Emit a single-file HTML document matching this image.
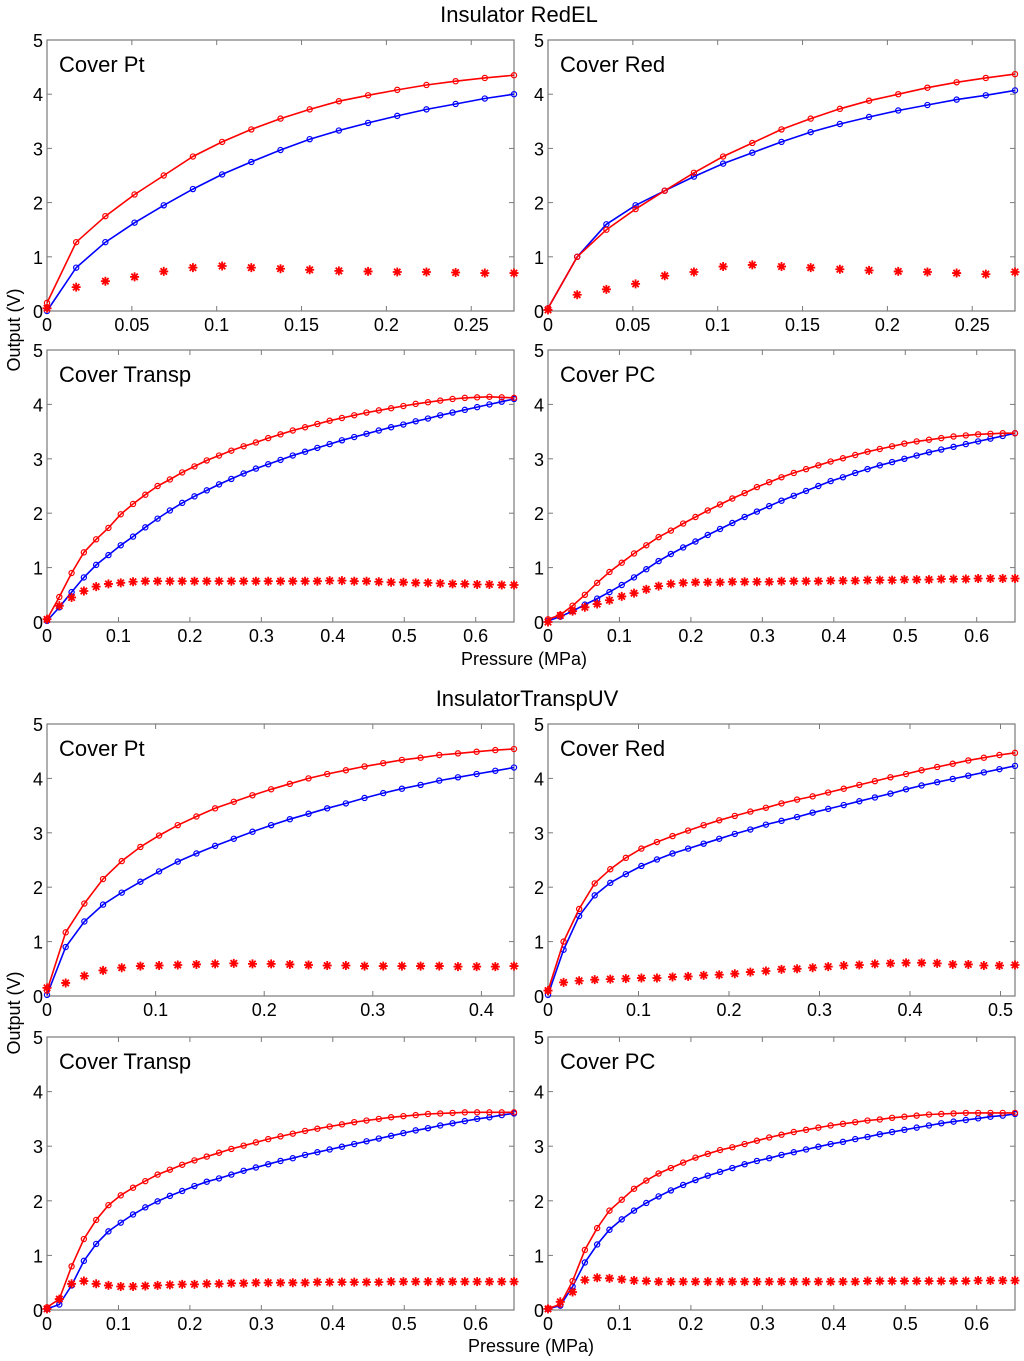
<!DOCTYPE html>
<html><head><meta charset="utf-8"><style>
html,body{margin:0;padding:0;background:#fff;width:1024px;height:1361px;overflow:hidden}
svg{display:block}
text{font-family:"Liberation Sans",sans-serif;fill:#000}
</style></head><body>
<svg id="chart" width="1024" height="1361" viewBox="0 0 1024 1361" xmlns="http://www.w3.org/2000/svg">
<text x="519" y="22" font-size="22" text-anchor="middle">Insulator RedEL</text>
<text x="527" y="706" font-size="22" text-anchor="middle">InsulatorTranspUV</text>
<text transform="translate(20,330) rotate(-90)" font-size="18" text-anchor="middle">Output (V)</text>
<text transform="translate(20,1013) rotate(-90)" font-size="18" text-anchor="middle">Output (V)</text>
<text x="524" y="665" font-size="18" text-anchor="middle">Pressure (MPa)</text>
<text x="531" y="1352" font-size="18" text-anchor="middle">Pressure (MPa)</text>
</svg>
<script>
const xStep = 0.0172;
const yTicks = [0,1,2,3,4,5];
const panelNames = ["Cover Pt","Cover Red","Cover Transp","Cover PC","Cover Pt","Cover Red","Cover Transp","Cover PC"];
const xTicks1 = [0,0.05,0.1,0.15,0.2,0.25];
const xTicks1Labels = ["0","0.05","0.1","0.15","0.2","0.25"];
const xTicks2 = [0,0.1,0.2,0.3,0.4,0.5,0.6];
const xTicks2Labels = ["0","0.1","0.2","0.3","0.4","0.5","0.6"];
const xTicks5 = [0,0.1,0.2,0.3,0.4];
const xTicks5Labels = ["0","0.1","0.2","0.3","0.4"];
const xTicks6 = [0,0.1,0.2,0.3,0.4,0.5];
const xTicks6Labels = ["0","0.1","0.2","0.3","0.4","0.5"];

const red1 = [0.15,1.27,1.75,2.15,2.5,2.85,3.12,3.35,3.55,3.72,3.87,3.98,4.08,4.17,4.24,4.3,4.35];
const blue1 = [0,0.8,1.27,1.63,1.95,2.25,2.52,2.75,2.97,3.17,3.33,3.47,3.6,3.72,3.82,3.92,4.0];
const star1 = [0.05,0.44,0.55,0.63,0.73,0.8,0.83,0.8,0.78,0.76,0.74,0.73,0.72,0.72,0.71,0.7,0.7];

const red2 = [0.05,1.0,1.5,1.88,2.22,2.55,2.85,3.1,3.35,3.55,3.73,3.88,4.0,4.12,4.22,4.3,4.37];
const blue2 = [0.05,1.0,1.6,1.95,2.22,2.48,2.72,2.92,3.12,3.3,3.45,3.58,3.7,3.8,3.9,3.98,4.07];
const star2 = [0.02,0.3,0.4,0.5,0.65,0.72,0.82,0.85,0.82,0.8,0.77,0.75,0.73,0.72,0.7,0.68,0.72];

const red3 = [0.05,0.46,0.9,1.28,1.52,1.73,1.98,2.17,2.34,2.5,2.62,2.75,2.86,2.97,3.06,3.15,3.23,3.3,3.38,3.45,3.52,3.58,3.64,3.7,3.75,3.8,3.85,3.89,3.93,3.97,4.01,4.04,4.07,4.1,4.12,4.13,4.14,4.13,4.12];
const blue3 = [0.02,0.27,0.55,0.82,1.05,1.23,1.41,1.57,1.74,1.9,2.05,2.19,2.31,2.42,2.53,2.63,2.73,2.82,2.9,2.98,3.06,3.13,3.2,3.27,3.34,3.4,3.46,3.52,3.58,3.63,3.69,3.74,3.8,3.85,3.9,3.95,4.0,4.05,4.1];
const star3 = [0.05,0.3,0.45,0.57,0.65,0.7,0.72,0.74,0.75,0.75,0.75,0.75,0.75,0.75,0.75,0.75,0.75,0.75,0.75,0.75,0.75,0.75,0.75,0.76,0.76,0.75,0.75,0.74,0.73,0.73,0.72,0.72,0.71,0.7,0.7,0.69,0.69,0.68,0.68];

const red4 = [0.05,0.13,0.3,0.5,0.72,0.92,1.09,1.26,1.41,1.56,1.68,1.81,1.93,2.05,2.16,2.27,2.37,2.48,2.57,2.66,2.74,2.81,2.88,2.95,3.01,3.07,3.13,3.18,3.23,3.28,3.32,3.35,3.38,3.41,3.43,3.45,3.46,3.47,3.47];
const blue4 = [0.02,0.1,0.2,0.32,0.43,0.55,0.68,0.82,0.97,1.12,1.25,1.37,1.48,1.6,1.71,1.82,1.93,2.03,2.13,2.23,2.32,2.41,2.5,2.59,2.66,2.74,2.81,2.88,2.94,3.0,3.06,3.12,3.17,3.22,3.27,3.32,3.37,3.42,3.47];
const star4 = [0.0,0.12,0.2,0.27,0.33,0.4,0.47,0.53,0.6,0.66,0.7,0.72,0.73,0.73,0.73,0.74,0.74,0.74,0.74,0.75,0.75,0.75,0.75,0.76,0.76,0.76,0.77,0.77,0.77,0.78,0.78,0.78,0.79,0.79,0.79,0.8,0.8,0.8,0.8];

const red5 = [0.1,1.17,1.7,2.15,2.48,2.74,2.95,3.14,3.3,3.45,3.57,3.69,3.8,3.9,4.0,4.08,4.15,4.22,4.28,4.34,4.38,4.43,4.46,4.49,4.52,4.54];
const blue5 = [0.02,0.9,1.37,1.68,1.9,2.1,2.29,2.47,2.62,2.76,2.89,3.02,3.14,3.25,3.35,3.45,3.54,3.64,3.73,3.81,3.88,3.96,4.02,4.08,4.14,4.2];
const star5 = [0.15,0.24,0.37,0.47,0.52,0.55,0.56,0.57,0.58,0.59,0.6,0.59,0.59,0.58,0.57,0.56,0.56,0.55,0.55,0.55,0.55,0.55,0.54,0.54,0.54,0.55];

const red6 = [0.1,1.0,1.6,2.07,2.33,2.54,2.71,2.83,2.94,3.04,3.14,3.23,3.31,3.39,3.46,3.54,3.61,3.67,3.74,3.81,3.88,3.95,4.02,4.08,4.15,4.21,4.27,4.33,4.38,4.43,4.47];
const blue6 = [0.02,0.85,1.47,1.85,2.08,2.24,2.39,2.51,2.62,2.71,2.8,2.89,2.98,3.06,3.15,3.22,3.29,3.37,3.44,3.51,3.58,3.65,3.72,3.8,3.87,3.93,3.99,4.05,4.11,4.17,4.23];
const star6 = [0.1,0.25,0.28,0.3,0.31,0.32,0.33,0.33,0.35,0.36,0.38,0.39,0.41,0.44,0.46,0.49,0.5,0.52,0.54,0.56,0.57,0.59,0.6,0.61,0.61,0.6,0.58,0.58,0.56,0.56,0.57];

const red7 = [0.05,0.2,0.8,1.3,1.65,1.92,2.1,2.24,2.36,2.48,2.57,2.66,2.74,2.81,2.88,2.95,3.01,3.07,3.13,3.18,3.23,3.28,3.32,3.36,3.4,3.44,3.47,3.5,3.53,3.55,3.57,3.59,3.6,3.61,3.62,3.62,3.62,3.62,3.62];
const blue7 = [0.02,0.1,0.45,0.9,1.21,1.44,1.6,1.75,1.88,1.99,2.09,2.18,2.27,2.35,2.41,2.48,2.55,2.61,2.67,2.73,2.78,2.84,2.89,2.94,2.99,3.04,3.09,3.14,3.19,3.24,3.29,3.33,3.38,3.42,3.46,3.5,3.53,3.57,3.6];
const star7 = [0.02,0.2,0.48,0.53,0.48,0.45,0.43,0.43,0.44,0.45,0.46,0.47,0.47,0.48,0.48,0.49,0.49,0.5,0.5,0.5,0.5,0.5,0.51,0.51,0.51,0.51,0.51,0.51,0.52,0.52,0.52,0.52,0.52,0.52,0.52,0.52,0.52,0.52,0.52];

const red8 = [0.03,0.1,0.53,1.1,1.5,1.82,2.02,2.22,2.37,2.5,2.6,2.7,2.79,2.86,2.93,2.98,3.04,3.1,3.16,3.21,3.26,3.3,3.34,3.38,3.41,3.44,3.47,3.49,3.52,3.54,3.56,3.58,3.59,3.6,3.61,3.61,3.61,3.61,3.61];
const blue8 = [0.02,0.08,0.43,0.87,1.2,1.47,1.66,1.82,1.96,2.08,2.19,2.29,2.38,2.46,2.53,2.6,2.67,2.73,2.78,2.84,2.89,2.94,2.99,3.04,3.08,3.13,3.17,3.22,3.26,3.3,3.34,3.38,3.42,3.45,3.48,3.51,3.54,3.56,3.59];
const star8 = [0.02,0.15,0.33,0.55,0.59,0.58,0.56,0.54,0.53,0.52,0.52,0.52,0.52,0.52,0.52,0.52,0.52,0.52,0.52,0.52,0.52,0.52,0.52,0.52,0.52,0.52,0.53,0.53,0.53,0.53,0.53,0.53,0.53,0.53,0.53,0.54,0.54,0.54,0.54];

const NS = "http://www.w3.org/2000/svg";
const svg = document.getElementById('chart');
function mk(tag, attrs, parent){
  const e = document.createElementNS(NS, tag);
  for (const k in attrs) e.setAttribute(k, attrs[k]);
  (parent||svg).appendChild(e);
  return e;
}
const panels = [
  {box:[47,40,514,311], red:red1, blue:blue1, star:star1, ticks:xTicks1, labels:xTicks1Labels},
  {box:[548,40,1015,311], red:red2, blue:blue2, star:star2, ticks:xTicks1, labels:xTicks1Labels},
  {box:[47,350,514,622], red:red3, blue:blue3, star:star3, ticks:xTicks2, labels:xTicks2Labels},
  {box:[548,350,1015,622], red:red4, blue:blue4, star:star4, ticks:xTicks2, labels:xTicks2Labels},
  {box:[47,724,514,996], red:red5, blue:blue5, star:star5, ticks:xTicks5, labels:xTicks5Labels},
  {box:[548,724,1015,996], red:red6, blue:blue6, star:star6, ticks:xTicks6, labels:xTicks6Labels},
  {box:[47,1037,514,1310], red:red7, blue:blue7, star:star7, ticks:xTicks2, labels:xTicks2Labels},
  {box:[548,1037,1015,1310], red:red8, blue:blue8, star:star8, ticks:xTicks2, labels:xTicks2Labels}
];
panels.forEach((p, pi) => {
  const [x0,y0,x1,y1] = p.box;
  const n = p.red.length;
  const xmax = (n-1)*xStep;
  const X = v => x0 + v/xmax*(x1-x0);
  const Y = v => y1 - v/5*(y1-y0);
  const g = mk('g', {});
  
  
  const frame = mk('rect', {x:x0, y:y0, width:x1-x0, height:y1-y0, fill:'#fff', stroke:'#7a7a7a', 'stroke-width':1.2}, g);
  
  
  yTicks.forEach(t => {
    const y = Y(t);
    mk('line', {x1:x0, x2:x0+5, y1:y, y2:y, stroke:'#7a7a7a'}, g);
    mk('line', {x1:x1, x2:x1-5, y1:y, y2:y, stroke:'#7a7a7a'}, g);
    const tl = mk('text', {x:x0-4, y:y+7, 'font-size':18, 'text-anchor':'end'}, g);
    tl.textContent = String(t);
    
    
  });
  p.ticks.forEach((t, ti) => {
    const x = X(t);
    mk('line', {x1:x, x2:x, y1:y1, y2:y1-5, stroke:'#7a7a7a'}, g);
    mk('line', {x1:x, x2:x, y1:y0, y2:y0+5, stroke:'#7a7a7a'}, g);
    const tl = mk('text', {x:x, y:y1+20, 'font-size':18, 'text-anchor':'middle'}, g);
    tl.textContent = p.labels[ti];
    
    
  });
  const lab = mk('text', {x:x0+12, y:y0+32, 'font-size':22}, g);
  lab.textContent = panelNames[pi];
  
  
  [['blue','#0000ff',p.blue],['red','#ff0000',p.red]].forEach(([nm,col,arr]) => {
    const pts = arr.map((v,i) => X(i*xStep).toFixed(1)+','+Y(v).toFixed(1)).join(' ');
    const line = mk('polyline', {points:pts, fill:'none', stroke:col, 'stroke-width':1.6}, g);
    
    
    arr.forEach((v,i) => {
      const c = mk('circle', {cx:X(i*xStep), cy:Y(v), r:2.6, fill:'none', stroke:col, 'stroke-width':1.2}, g);
      
      
    });
  });
  p.star.forEach((v,i) => {
    const cx = X(i*xStep), cy = Y(v), r = 4.5, d = 3.2;
    const s = mk('path', {d:`M${cx-r},${cy}H${cx+r}M${cx},${cy-r}V${cy+r}M${cx-d},${cy-d}L${cx+d},${cy+d}M${cx-d},${cy+d}L${cx+d},${cy-d}`, stroke:'#ff0000', 'stroke-width':1.8, fill:'none'}, g);
    
    
  });
});
</script>
</body></html>
